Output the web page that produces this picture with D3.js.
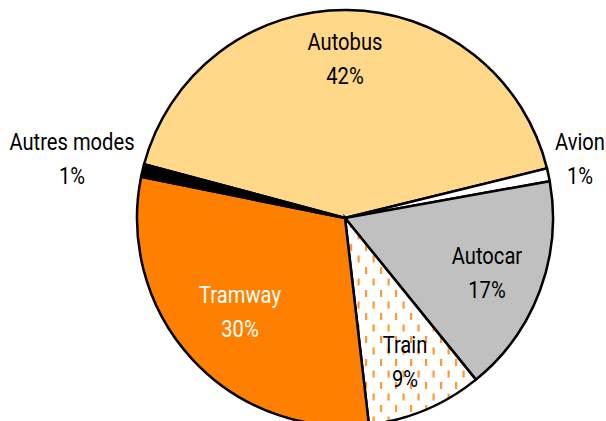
<!DOCTYPE html>
<html>
<head>
<meta charset="utf-8">
<script src="https://cdn.jsdelivr.net/npm/d3@7"></script>
<style>
  body { margin: 0; background: #fff; }
  svg { display: block; }
</style>
</head>
<body>
<svg id="chart" width="606" height="421"></svg>
<script>
// data (clockwise from Autobus)
const modes = ['Autobus', 'Avion', 'Autocar', 'Train', 'Tramway', 'Autres modes'];
const shares = [42, 1, 17, 9, 30, 1];
const fills = ['#FFD88A', '#FFFFFF', '#C0C0C0', 'url(#dash)', '#FF8000', '#000000'];

const svg = d3.select('#chart');
const cx = 345, cy = 218, r = 208;
const font = "Roboto, 'Liberation Sans', sans-serif";

// dashed pattern for Train
const defs = svg.append('defs');
const pat = defs.append('pattern')
  .attr('id', 'dash')
  .attr('patternUnits', 'userSpaceOnUse')
  .attr('width', 15).attr('height', 23)
  .attr('x', 3).attr('y', 2);
pat.append('rect').attr('width', 15).attr('height', 23).attr('fill', '#fff');
pat.append('rect').attr('x', 2).attr('y', 1).attr('width', 2.2).attr('height', 7).attr('fill', '#FF9A33');
pat.append('rect').attr('x', 9.5).attr('y', 12.5).attr('width', 2.2).attr('height', 7).attr('fill', '#FF9A33');

const rad = Math.PI / 180;
const pie = d3.pie()
  .sort(null)
  .value(d => d)
  .startAngle(-75 * rad)
  .endAngle(285 * rad);

const arcs = pie(shares);
const arc = d3.arc().innerRadius(0).outerRadius(r);

const g = svg.append('g').attr('transform', `translate(${cx},${cy})`);

g.selectAll('path')
  .data(arcs)
  .enter().append('path')
  .attr('d', arc)
  .attr('fill', (d, i) => fills[i])
  .attr('stroke', '#000')
  .attr('stroke-width', 2.5)
  .attr('stroke-linejoin', 'miter');

// label positions, two lines each
const labelPos = [
  [345, 42], [580, 142], [487, 256], [405, 345], [240, 295], [72, 142]
];
const labelColor = ['#000', '#000', '#000', '#000', '#fff', '#000'];

// condensed look: squeeze the text horizontally
modes.forEach((m, i) => {
  const lg = svg.append('g')
    .attr('transform', `translate(${labelPos[i][0]},${labelPos[i][1]}) scale(0.84,1)`);
  const t = lg.append('text')
    .attr('text-anchor', 'middle')
    .attr('font-family', font)
    .attr('font-size', 24)
    .attr('fill', labelColor[i]);
  t.append('tspan').attr('x', 0).attr('dy', 8).text(m);
  t.append('tspan').attr('x', 0).attr('dy', 34).text(shares[i] + '%');
});
</script>
</body>
</html>
